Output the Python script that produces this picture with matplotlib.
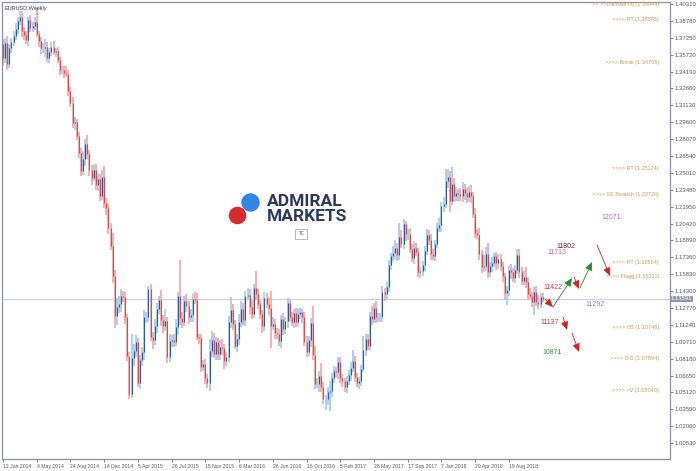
import numpy as np
import matplotlib
matplotlib.use("Agg")
import matplotlib.pyplot as plt

# weekly EURUSD closes, weeks starting 12 Jan 2014
closes_2014 = [1.3540, 1.3680, 1.3485, 1.3635, 1.3690, 1.3745, 1.3805, 1.3875, 1.3910, 1.3790,
               1.3750, 1.3705, 1.3885, 1.3815, 1.3830, 1.3870, 1.3755, 1.3695, 1.3630, 1.3635,
               1.3645, 1.3540, 1.3600, 1.3645, 1.3595, 1.3605, 1.3525, 1.3430, 1.3430, 1.3410,
               1.3400, 1.3240, 1.3130, 1.2950, 1.2960, 1.2835, 1.2685, 1.2520, 1.2630, 1.2760,
               1.2670, 1.2525, 1.2455, 1.2525, 1.2390, 1.2450, 1.2290, 1.2465, 1.2230, 1.2180,
               1.2000]
closes_2015 = [1.1840, 1.1565, 1.1205, 1.1290, 1.1315, 1.1390, 1.1380, 1.1195, 1.0845, 1.0495,
               1.0825, 1.0890, 1.0970, 1.0600, 1.0805, 1.0875, 1.1200, 1.1200, 1.1445, 1.1015,
               1.0990, 1.1110, 1.1265, 1.1350, 1.1165, 1.1110, 1.1160, 1.0830, 1.0980, 1.0985,
               1.0970, 1.1105, 1.1385, 1.1185, 1.1150, 1.1340, 1.1295, 1.1195, 1.1210, 1.1360,
               1.1350, 1.1015, 1.1005, 1.0740, 1.0770, 1.0645, 1.0595, 1.0885, 1.0990, 1.0865,
               1.0965, 1.0860]
closes_2016 = [1.0925, 1.0915, 1.0795, 1.0830, 1.1155, 1.1255, 1.1130, 1.0935, 1.1000, 1.1155,
               1.1270, 1.1165, 1.1390, 1.1395, 1.1285, 1.1225, 1.1455, 1.1400, 1.1310, 1.1220,
               1.1115, 1.1365, 1.1315, 1.1275, 1.1115, 1.1135, 1.1050, 1.1040, 1.0975, 1.1175,
               1.1085, 1.1160, 1.1325, 1.1200, 1.1155, 1.1230, 1.1155, 1.1225, 1.1240, 1.1200,
               1.0970, 1.0880, 1.0985, 1.1140, 1.0850, 1.0590, 1.0590, 1.0665, 1.0560, 1.0450,
               1.0455, 1.0520]
closes_2017 = [1.0530, 1.0645, 1.0705, 1.0695, 1.0785, 1.0640, 1.0615, 1.0560, 1.0620, 1.0670,
               1.0735, 1.0800, 1.0650, 1.0595, 1.0615, 1.0725, 1.0895, 1.0995, 1.0935, 1.1205,
               1.1180, 1.1280, 1.1195, 1.1195, 1.1195, 1.1425, 1.1400, 1.1470, 1.1665, 1.1750,
               1.1775, 1.1820, 1.1760, 1.1925, 1.1860, 1.2035, 1.1945, 1.1950, 1.1815, 1.1730,
               1.1820, 1.1785, 1.1600, 1.1610, 1.1665, 1.1795, 1.1935, 1.1895, 1.1770, 1.1750,
               1.1860, 1.2005, 1.2030]
closes_2018 = [1.2200, 1.2220, 1.2425, 1.2460, 1.2250, 1.2405, 1.2295, 1.2315, 1.2310, 1.2290,
               1.2355, 1.2320, 1.2280, 1.2330, 1.2290, 1.2130, 1.1960, 1.1940, 1.1770, 1.1650,
               1.1660, 1.1770, 1.1605, 1.1655, 1.1685, 1.1745, 1.1685, 1.1720, 1.1655, 1.1565,
               1.1410, 1.1440, 1.1620, 1.1600, 1.1550, 1.1625, 1.1755, 1.1605, 1.1525, 1.1560,
               1.1510, 1.1400, 1.1385, 1.1335, 1.1420, 1.1335, 1.1315, 1.1375, 1.1359]
first_open = 1.3670

# wick lengths in pips above / below the body
upper_2014 = [45, 40, 60, 35, 30, 45, 50, 40, 55, 60, 35, 40, 25, 50, 40, 45, 123, 30, 35, 40,
              70, 45, 30, 40, 50, 25, 35, 30, 40, 35, 60, 30, 40, 55, 45, 30, 40, 45, 70, 50,
              85, 40, 50, 55, 60, 40, 45, 60, 100, 45, 40]
lower_2014 = [60, 40, 55, 30, 45, 35, 40, 45, 30, 60, 45, 40, 50, 35, 40, 30, 25, 50, 55, 40,
              80, 35, 45, 40, 30, 45, 30, 40, 35, 50, 30, 40, 35, 45, 60, 40, 45, 50, 40, 70,
              40, 50, 60, 30, 45, 50, 40, 30, 45, 60, 50]
upper_2015 = [50, 120, 60, 80, 70, 55, 45, 40, 30, 35, 218, 60, 65, 40, 50, 45, 60, 40, 30, 50,
              45, 70, 60, 40, 90, 45, 110, 40, 60, 45, 55, 70, 40, 329, 60, 45, 60, 50, 55, 40,
              65, 60, 30, 40, 35, 45, 30, 115, 80, 60, 50, 45]
lower_2015 = [40, 60, 110, 80, 60, 70, 50, 60, 50, 40, 33, 70, 60, 35, 60, 50, 70, 60, 50, 40,
              80, 50, 60, 40, 50, 60, 40, 50, 40, 60, 45, 40, 70, 60, 50, 40, 55, 60, 45, 60,
              40, 30, 50, 40, 35, 60, 45, 71, 50, 40, 60, 50]
upper_2016 = [60, 70, 40, 50, 50, 120, 60, 40, 45, 70, 70, 50, 45, 60, 55, 60, 40, 160, 50, 40,
              35, 60, 50, 60, 152, 60, 40, 50, 45, 40, 60, 40, 40, 30, 45, 40, 50, 45, 40, 30,
              40, 50, 40, 45, 160, 80, 50, 40, 110, 50, 30, 40]
lower_2016 = [50, 60, 70, 40, 40, 60, 50, 30, 60, 60, 50, 40, 50, 40, 60, 50, 40, 50, 40, 45,
              60, 50, 40, 60, 203, 40, 50, 40, 45, 60, 50, 40, 60, 50, 40, 60, 50, 40, 45, 60,
              40, 50, 40, 60, 40, 50, 40, 70, 40, 40, 100, 60]
upper_2017 = [90, 40, 50, 40, 45, 50, 40, 30, 40, 45, 50, 100, 40, 40, 35, 40, 130, 50, 45, 40,
              90, 40, 60, 40, 40, 50, 30, 40, 45, 30, 60, 70, 50, 120, 60, 50, 30, 40, 50, 40,
              60, 50, 40, 40, 40, 40, 60, 45, 50, 40, 30, 40, 60]
lower_2017 = [180, 60, 50, 40, 60, 40, 50, 45, 50, 40, 50, 40, 40, 35, 50, 40, 30, 50, 40, 40,
              60, 40, 50, 45, 40, 40, 60, 40, 50, 40, 50, 50, 60, 50, 40, 50, 60, 50, 40, 40,
              50, 40, 40, 50, 40, 50, 40, 50, 60, 40, 50, 40, 40]
upper_2018 = [40, 60, 111, 80, 60, 150, 50, 60, 40, 50, 60, 50, 40, 50, 60, 40, 50, 30, 60, 30,
              100, 60, 100, 40, 50, 30, 40, 50, 50, 40, 30, 40, 40, 55, 40, 40, 60, 60, 40, 50,
              90, 40, 60, 40, 50, 60, 60, 40, 40]
lower_2018 = [60, 50, 40, 60, 100, 40, 60, 50, 60, 40, 50, 60, 50, 40, 60, 40, 50, 40, 60, 60,
              50, 50, 60, 50, 50, 40, 60, 50, 40, 50, 60, 109, 50, 60, 40, 50, 40, 60, 40, 40,
              50, 50, 30, 50, 119, 40, 50, 40, 30]

date_labels = ["12 Jan 2014", "4 May 2014", "24 Aug 2014", "14 Dec 2014", "5 Apr 2015",
               "26 Jul 2015", "15 Nov 2015", "6 Mar 2016", "26 Jun 2016", "16 Oct 2016",
               "5 Feb 2017", "28 May 2017", "17 Sep 2017", "7 Jan 2018", "29 Apr 2018",
               "19 Aug 2018"]
price_ticks = [1.40310, 1.38780, 1.37250, 1.35720, 1.34190, 1.32660, 1.31130, 1.29600,
               1.28070, 1.26540, 1.25010, 1.23480, 1.21950, 1.20420, 1.18890, 1.17360,
               1.15830, 1.14300, 1.12770, 1.11240, 1.09710, 1.08180, 1.06650, 1.05120,
               1.03590, 1.02060, 1.00530]
current_price = 1.13591

level_names = [">> >>Ultimate Inj", ">>>> RT", ">>>> Break", ">>>> RT", ">>>> 5G Bearish",
               ">>>> RT", ">>>> Flagg", ">>>> VB", ">>>> S-S", ">>>> >V"]
level_prices = [1.39944, 1.38585, 1.34705, 1.25124, 1.22726, 1.16564, 1.15311, 1.10746,
                1.07894, 1.05040]

closes = np.array(closes_2014 + closes_2015 + closes_2016 + closes_2017 + closes_2018)
opens = np.concatenate([[first_open], closes[:-1]])
upper = np.array(upper_2014 + upper_2015 + upper_2016 + upper_2017 + upper_2018) / 10000
lower = np.array(lower_2014 + lower_2015 + lower_2016 + lower_2017 + lower_2018) / 10000
highs = np.maximum(opens, closes) + upper
lows = np.minimum(opens, closes) - lower
idx = np.arange(len(closes))


# reference image pixel -> data coords (for placing annotations)
def px(x, y):
    return (x - 3) / 2.108, 1.4031 - (y - 4) / 1104


small = "Liberation Sans"

fig = plt.figure(figsize=(7, 4.71), dpi=100)
ax = fig.add_axes([2 / 700, 12 / 471, 668 / 700, 457 / 471])
ax.set_xlim(-0.47, 316.4)
ax.set_ylim(0.99096, 1.40491)

bull = closes >= opens
ax.axhline(current_price, color="#c9d1da", lw=0.9, zorder=1)
ax.vlines(idx[bull], lows[bull], highs[bull], color="#a7cdef", lw=1.3, zorder=2)
ax.vlines(idx[~bull], lows[~bull], highs[~bull], color="#f3aaaa", lw=1.3, zorder=2)
ax.vlines(idx[bull], opens[bull], closes[bull], color="#2a5a98", lw=0.8, zorder=3)
ax.vlines(idx[~bull], opens[~bull], closes[~bull], color="#e04848", lw=0.8, zorder=3)

# axes styling
for side in ["left", "top", "right", "bottom"]:
    ax.spines[side].set_color("#8d8fa3")
    ax.spines[side].set_linewidth(0.9)
ax.yaxis.tick_right()
ax.set_yticks(price_ticks)
ax.set_yticklabels([f"{p:.5f}" for p in price_ticks], family=small)
ax.tick_params(axis="y", labelsize=4.3, length=2, width=0.5, colors="#555566", pad=1)
ax.set_xticks(np.arange(len(date_labels)) * 16)
ax.set_xticklabels(date_labels, family=small)
ax.tick_params(axis="x", labelsize=3.7, length=2, width=0.5, colors="#555566", pad=1.5)
for lbl in ax.get_xticklabels():
    lbl.set_horizontalalignment("left")

ax.text(0.004, 0.992, "EURUSD,Weekly", transform=ax.transAxes, fontsize=4, family=small,
        color="#333355", va="top", ha="left")

# current price box on the right axis
ax.text(1.001, current_price, "1.13591", transform=ax.get_yaxis_transform(), fontsize=4.2,
        family=small, color="white", va="center", ha="left",
        bbox=dict(boxstyle="square,pad=0.15", fc="#8e98ab", ec="none"))

# level labels
lx, _ = px(659, 0)
for name, p in zip(level_names, level_prices):
    ax.text(lx, p + 0.0006, f"{name} ({p:.5f})", fontsize=4, family=small, color="#cf9a55",
            ha="right", va="bottom")

# projection arrows
red, green = "#d42222", "#2c8a34"
arrows = [((545, 299), (553, 307), red), ((553, 307), (572, 278), green),
          ((574, 277), (579, 289), red), ((580, 288), (592, 262), green),
          ((597, 245), (610, 276), red), ((563, 317), (567, 330), red),
          ((572, 333), (579, 352), red)]
for (x0, y0), (x1, y1), col in arrows:
    ax.annotate("", xy=px(x1, y1), xytext=px(x0, y0),
                arrowprops=dict(arrowstyle="-|>,head_length=0.5,head_width=0.22",
                                color=col, lw=0.6, shrinkA=0, shrinkB=0))

targets = [("11422", 553, 288, "#d03838"), ("11802", 566, 247, "#7a2335"),
           ("11713", 557, 253, "#a673d6"), ("12071", 611, 218, "#a673d6"),
           ("11292", 595, 305, "#a673d6"), ("11137", 550, 323, "#d03838"),
           ("10871", 552, 353, "#2c8a34")]
for t, x, y, col in targets:
    ax.text(*px(x, y), t, fontsize=5, family=small, color=col, ha="center", va="center")

# logo
ax.scatter(*px(250, 202), s=150, color="#2f86e6", zorder=5)
ax.scatter(*px(237, 215), s=135, color="#d42c2c", zorder=5)
ax.text(*px(267, 202), "ADMIRAL", fontsize=12.5, fontweight="bold", family="Roboto",
        color="#2b3a5c", ha="left", va="center")
ax.text(*px(267, 217), "MARKETS", fontsize=12.5, fontweight="bold", family="Roboto",
        color="#2b3a5c", ha="left", va="center")
ax.text(*px(301, 234), "TC", fontsize=3.5, color="#555577", ha="center", va="center",
        bbox=dict(boxstyle="square,pad=0.6", fc="white", ec="#a9a9d6", lw=0.6))

fig.savefig("out.png", dpi=100)
